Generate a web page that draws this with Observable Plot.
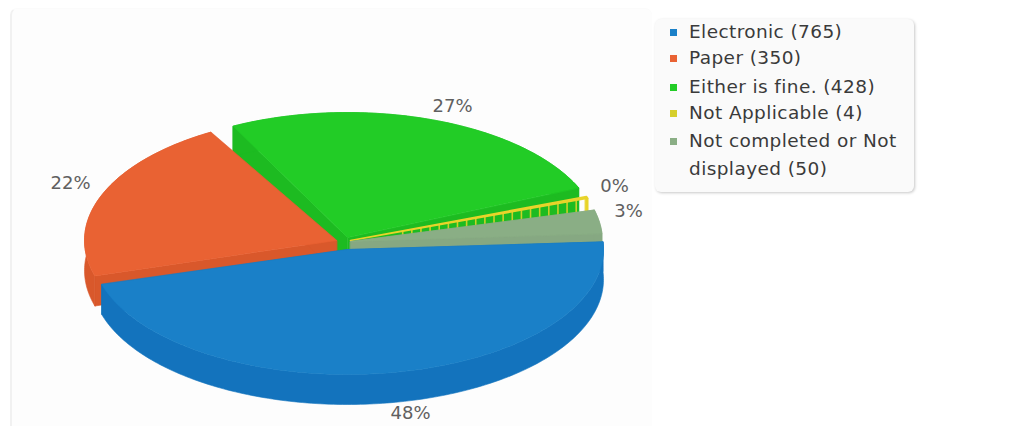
<!DOCTYPE html>
<html>
<head>
<meta charset="utf-8">
<script src="https://cdn.jsdelivr.net/npm/d3@7"></script>
<script src="https://cdn.jsdelivr.net/npm/@observablehq/plot@0.6"></script>
<style>
  html, body { margin: 0; background: #fff; }
  #stage { position: relative; width: 1036px; height: 426px; overflow: hidden; font-family: "DejaVu Sans", sans-serif; }
  #card { position: absolute; left: 10px; top: 8px; width: 640px; height: 440px; border-left: 2px solid #f1f1f1; border-top: 1px solid #fbfbfb; border-radius: 7px; background: #fdfdfd; }
  #chart { position: absolute; left: 0; top: 0; }
  #chart svg { background: transparent; display: block; }
  #legend { position: absolute; left: 655px; top: 19px; width: 259px; height: 173px; background: #fafafa; border-radius: 6px; box-shadow: 1px 1px 3px rgba(0,0,0,.22); }
  .row { position: absolute; left: 34px; width: 224px; font-size: 18.5px; letter-spacing: 0.4px; color: #3a3a3a; }
  .swatch { position: absolute; left: 15px; width: 7px; height: 7px; }
</style>
</head>
<body>
<div id="stage">
  <div id="card"></div>
  <div id="chart"></div>
  <div id="legend"></div>
</div>
<script>
// Responses per preferred format
const categories = ["Electronic", "Paper", "Either is fine.", "Not Applicable", "Not completed or Not displayed"];
const counts = [765, 350, 428, 4, 50];

// Slice colours: top face, side wall and legend swatch
const topColors = ["#1a80c8", "#e96233", "#22cc26", "#e8d42a", "#8aae85"];
const wallColors = ["#1373bd", "#d9582b", "#1dbb21", "#e8d42a", "#86a882"];
const swatchColors = ["#1a80c8", "#e96233", "#22cc26", "#d6cf2c", "#8aae85"];

// Exploded-pie layout: apex of each wedge, its horizontal radius and its start angle, in degrees clockwise
const apexX = [347, 336, 347, 350, 350];
const apexY = [249, 240, 237, 240, 241];
const radiiX = [256, 252, 252, 252, 252];
const startAngle = [-3.5, 163.5, 243, -20.6, -14.6];
const labelX = [410, 70, 452, 614, 628];
const labelY = [413, 183, 106, 186, 211];
const radiusY = 125;
const depth = 30;
const sweepScale = 0.97; // the tilted view foreshortens each wedge a little

const total = d3.sum(counts);
const wedges = counts.map((count, i) => {
  const sweep = count / total * 360 * sweepScale;
  const steps = Math.max(2, Math.ceil(sweep));
  const arc = d3.range(steps + 1).map(k => {
    const a = (startAngle[i] + sweep * k / steps) * Math.PI / 180;
    return {x: apexX[i] + radiiX[i] * Math.cos(a), y: apexY[i] + radiusY * Math.sin(a)};
  });
  return {i, apex: {x: apexX[i], y: apexY[i]}, arc};
});

const lower = p => ({x: p.x, y: p.y + depth});

function polygon(points, fill, stroke = fill, strokeWidth = 0.6) {
  return Plot.line(points, {x: "x", y: "y", curve: "linear-closed", fill, stroke, strokeWidth});
}

// Side walls: the two radial faces and the rim, drawn under the top face
function walls({i, apex, arc}) {
  const c = wallColors[i];
  const first = arc[0], last = arc[arc.length - 1];
  return [
    polygon([apex, first, lower(first), lower(apex)], c),
    polygon([apex, last, lower(last), lower(apex)], c),
    polygon([...arc, ...arc.map(lower).reverse()], c)
  ];
}

function face({i, apex, arc}) {
  return polygon([apex, ...arc], topColors[i]);
}

// The Not Applicable wedge is drawn as an open cage of thin uprights
function cage({i, apex, arc}) {
  const tip = arc[arc.length - 1];
  const fractions = d3.range(0.22, 1.0, 0.0385);
  const edge = fractions.map(f => ({
    x: apex.x + (tip.x - apex.x) * f,
    y: apex.y + (tip.y - apex.y) * f
  }));
  return [
    Plot.link(edge, {x1: "x", y1: "y", x2: "x", y2: d => d.y + depth, stroke: topColors[i], strokeWidth: 1.6, strokeOpacity: 0.85}),
    Plot.line([apex, ...arc], {x: "x", y: "y", curve: "linear-closed", stroke: topColors[i], strokeWidth: 1.6, fill: topColors[i]}),
    Plot.link(arc, {x1: "x", y1: "y", x2: "x", y2: d => d.y + 15, stroke: topColors[i], strokeWidth: 1.6})
  ];
}

const [blue, orange, green, yellow, gray] = wedges;

const labels = counts.map((count, i) => ({
  text: Math.round(count / total * 100) + "%",
  x: labelX[i],
  y: labelY[i]
}));

const chart = Plot.plot({
  width: 1036,
  height: 426,
  margin: 0,
  style: {background: "transparent"},
  x: {domain: [0, 1036], range: [0, 1036], axis: null},
  y: {domain: [0, 426], range: [0, 426], axis: null},
  marks: [
    ...walls(green), face(green),
    ...cage(yellow),
    ...walls(gray), face(gray),
    ...walls(orange), face(orange),
    ...walls(blue), face(blue),
    Plot.text(labels, {
      x: "x", y: "y", text: "text",
      fill: "#606060",
      fontSize: 18,
      fontFamily: "DejaVu Sans"
    })
  ]
});
document.getElementById("chart").append(chart);

// Legend panel
const rowCenters = [13, 39, 68, 94, 122];
const legend = document.getElementById("legend");
categories.forEach((name, i) => {
  const swatch = document.createElement("div");
  swatch.className = "swatch";
  swatch.style.top = (rowCenters[i] - 3) + "px";
  swatch.style.background = swatchColors[i];
  legend.append(swatch);
  const row = document.createElement("div");
  row.className = "row";
  row.style.top = (rowCenters[i] - 14) + "px";
  row.style.lineHeight = "28px";
  row.textContent = `${name} (${counts[i]})`;
  legend.append(row);
});
</script>
</body>
</html>
